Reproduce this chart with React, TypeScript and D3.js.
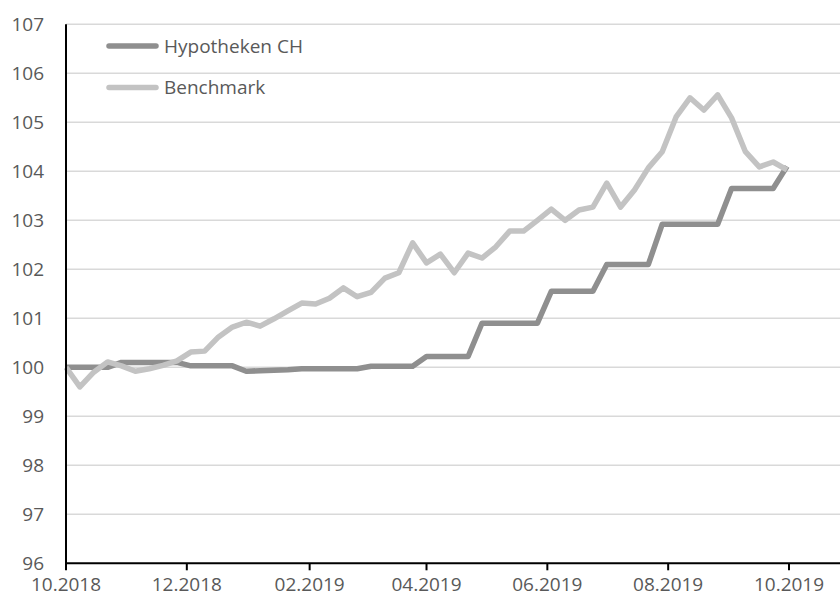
import React, { useEffect, useRef } from 'react';
import * as d3 from 'd3';

// weekly observations, 01.10.2018 - 30.09.2019
const START = new Date(2018, 9, 1);
const DATES = d3.range(53).map((i) => d3.timeDay.offset(START, i * 7));

const HYPOTHEKEN = [
  100.0, 100.0, 100.0, 100.0, 100.1, 100.1, 100.1, 100.1, 100.1, 100.03,
  100.03, 100.03, 100.03, 99.92, 99.93, 99.94, 99.95, 99.97, 99.97, 99.97,
  99.97, 99.97, 100.02, 100.02, 100.02, 100.02, 100.22, 100.22, 100.22, 100.22,
  100.9, 100.9, 100.9, 100.9, 100.9, 101.55, 101.55, 101.55, 101.55, 102.1,
  102.1, 102.1, 102.1, 102.92, 102.92, 102.92, 102.92, 102.92, 103.65, 103.65,
  103.65, 103.65, 104.1,
];

const BENCHMARK = [
  100.0, 99.6, 99.9, 100.11, 100.03, 99.92, 99.97, 100.04, 100.13, 100.31,
  100.33, 100.62, 100.82, 100.92, 100.84, 100.99, 101.15, 101.31, 101.29, 101.41,
  101.62, 101.44, 101.53, 101.82, 101.93, 102.54, 102.13, 102.31, 101.93, 102.33,
  102.23, 102.46, 102.78, 102.78, 103.0, 103.23, 103.0, 103.21, 103.27, 103.76,
  103.27, 103.62, 104.07, 104.4, 105.11, 105.5, 105.25, 105.56, 105.09, 104.4,
  104.09, 104.19, 104.03,
];

const SERIES = [
  { name: 'Hypotheken CH', values: HYPOTHEKEN, color: '#8f8f8f' },
  { name: 'Benchmark', values: BENCHMARK, color: '#c3c3c3' },
];

const TICK_DATES = ['2018-10-01', '2018-12-01', '2019-02-01', '2019-04-01', '2019-06-01', '2019-08-01', '2019-10-01'];
const Y_TICKS = d3.range(96, 108);

const FONT = '"Open Sans", sans-serif';
const TEXT = '#595959';

export default function App() {
  const svgRef = useRef<SVGSVGElement>(null);

  useEffect(() => {
    const width = 840;
    const height = 602;
    const left = 66;
    const right = 840;
    const top = 24.3;
    const bottom = 563.3;

    const svg = d3.select(svgRef.current);
    svg.selectAll('*').remove();
    svg.attr('width', width).attr('height', height);

    const parse = d3.timeParse('%Y-%m-%d');
    const ticks = TICK_DATES.map((s) => parse(s) as Date);

    const x = d3.scaleTime().domain([ticks[0], ticks[ticks.length - 1]]).range([left, 789]);
    const y = d3.scaleLinear().domain([96, 107]).range([bottom, top]);

    // gridlines
    svg
      .append('g')
      .selectAll('line')
      .data(Y_TICKS.filter((d) => d > 96))
      .join('line')
      .attr('x1', left)
      .attr('x2', right)
      .attr('y1', (d) => y(d))
      .attr('y2', (d) => y(d))
      .attr('stroke', '#d9d9d9')
      .attr('stroke-width', 1.5);

    // y labels
    svg
      .append('g')
      .selectAll('text')
      .data(Y_TICKS)
      .join('text')
      .attr('x', 44)
      .attr('y', (d) => y(d))
      .attr('dy', '0.35em')
      .attr('text-anchor', 'end')
      .attr('fill', TEXT)
      .attr('font-family', FONT)
      .attr('font-size', 19)
      .text((d) => d);

    // lines
    const line = d3
      .line<number>()
      .x((_, i) => x(DATES[i]))
      .y((d) => y(d));

    SERIES.forEach((s) => {
      svg
        .append('path')
        .datum(s.values)
        .attr('d', line)
        .attr('fill', 'none')
        .attr('stroke', s.color)
        .attr('stroke-width', 5.5)
        .attr('stroke-linejoin', 'round');
    });

    // axes
    svg
      .append('line')
      .attr('x1', left)
      .attr('x2', left)
      .attr('y1', top)
      .attr('y2', bottom)
      .attr('stroke', '#000')
      .attr('stroke-width', 2);
    svg
      .append('line')
      .attr('x1', left - 1)
      .attr('x2', right)
      .attr('y1', bottom)
      .attr('y2', bottom)
      .attr('stroke', '#000')
      .attr('stroke-width', 2);

    const xt = svg.append('g');
    xt.selectAll('line')
      .data(ticks)
      .join('line')
      .attr('x1', (d) => x(d))
      .attr('x2', (d) => x(d))
      .attr('y1', bottom)
      .attr('y2', bottom + 7)
      .attr('stroke', '#000')
      .attr('stroke-width', 2);
    xt.selectAll('text')
      .data(ticks)
      .join('text')
      .attr('x', (d) => x(d))
      .attr('y', 591)
      .attr('text-anchor', 'middle')
      .attr('fill', TEXT)
      .attr('font-family', FONT)
      .attr('font-size', 19)
      .text((d) => d3.timeFormat('%m.%Y')(d));

    // legend
    const legend = svg.append('g');
    SERIES.forEach((s, i) => {
      const ly = 46 + i * 41.5;
      legend
        .append('line')
        .attr('x1', 109)
        .attr('x2', 156)
        .attr('y1', ly)
        .attr('y2', ly)
        .attr('stroke', s.color)
        .attr('stroke-width', 5.5)
        .attr('stroke-linecap', 'round');
      legend
        .append('text')
        .attr('x', 164)
        .attr('y', ly)
        .attr('dy', '0.35em')
        .attr('fill', TEXT)
        .attr('font-family', FONT)
        .attr('font-size', 19)
        .text(s.name);
    });
  }, []);

  return (
    <svg
      ref={svgRef}
      style={{ position: 'absolute', left: 0, top: 0, display: 'block', background: '#fff' }}
      role="img"
      aria-label="Hypotheken CH vs Benchmark"
    />
  );
}
